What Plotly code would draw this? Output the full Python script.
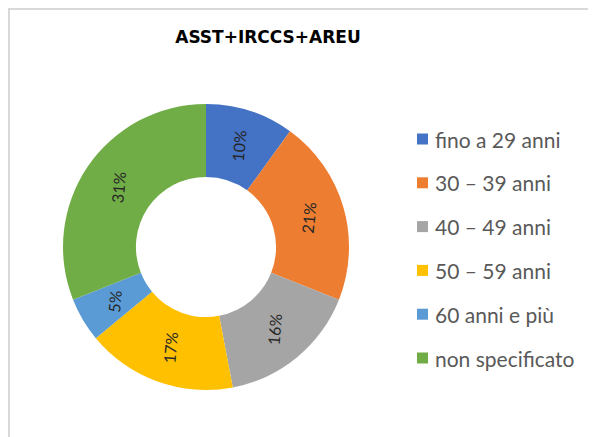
import math
import plotly.graph_objects as go

categories = ["fino a 29 anni", "30 – 39 anni", "40 – 49 anni", "50 – 59 anni", "60 anni e più", "non specificato"]
values = [10, 21, 16, 17, 5, 31]
colors = ["#4472C4", "#ED7D31", "#A5A5A5", "#FFC000", "#5B9BD5", "#70AD47"]
title_text = "ASST+IRCCS+AREU"

# figure is placed 8px into the page by the body margin
W, H = 588, 429
cx, cy, r = 198, 239, 143
hole = 0.49

fig = go.Figure(go.Pie(
    labels=categories,
    values=values,
    hole=hole,
    sort=False,
    direction="clockwise",
    rotation=0,
    marker=dict(colors=colors, line=dict(width=0)),
    textinfo="none",
    showlegend=False,
    hoverinfo="label+percent",
    domain=dict(x=[(cx - r) / W, (cx + r) / W], y=[(H - cy - r) / H, (H - cy + r) / H]),
))

shapes = [
    dict(type="line", xref="paper", yref="paper", x0=0, x1=1, y0=1 - 1 / H, y1=1 - 1 / H,
         line=dict(color="#D9D9D9", width=2)),
    dict(type="line", xref="paper", yref="paper", x0=1 / W, x1=1 / W, y0=0, y1=1,
         line=dict(color="#D9D9D9", width=2)),
]
annotations = []

# percent labels, placed at each slice's mid-angle, mid-ring, rotated like the reference
total = sum(values)
cum = 0
d = r * (1 + hole) / 2
for v in values:
    mid = (cum + v / 2) / total * 2 * math.pi
    cum += v
    px = cx + d * math.sin(mid)
    py = cy - d * math.cos(mid)
    annotations.append(dict(text=f"{round(v / total * 100)}%", xref="paper", yref="paper",
                            x=px / W, y=1 - py / H, xanchor="center", yanchor="middle",
                            showarrow=False, textangle=-85,
                            font=dict(family="Lato", size=16, color="#262626")))

# legend
y_first, step = 131, 43.8
for i, (lab, col) in enumerate(zip(categories, colors)):
    yc = y_first + i * step
    shapes.append(dict(type="rect", xref="paper", yref="paper",
                       x0=409 / W, x1=420 / W, y0=1 - (yc + 5.5) / H, y1=1 - (yc - 5.5) / H,
                       fillcolor=col, line=dict(width=0)))
    annotations.append(dict(text=lab, xref="paper", yref="paper", x=425 / W, y=1 - yc / H,
                            xanchor="left", yanchor="middle", showarrow=False,
                            font=dict(family="Lato", size=21, color="#595959")))

fig.update_layout(
    width=W, height=H,
    margin=dict(l=0, r=0, t=0, b=0),
    paper_bgcolor="white", plot_bgcolor="white",
    title=dict(text="<b>" + title_text + "</b>", x=260 / W, y=1 - 29 / H, xanchor="center", yanchor="middle",
               font=dict(family="DejaVu Sans", size=17, color="#000000")),
    shapes=shapes,
    annotations=annotations,
)

fig.write_html("out.html")
